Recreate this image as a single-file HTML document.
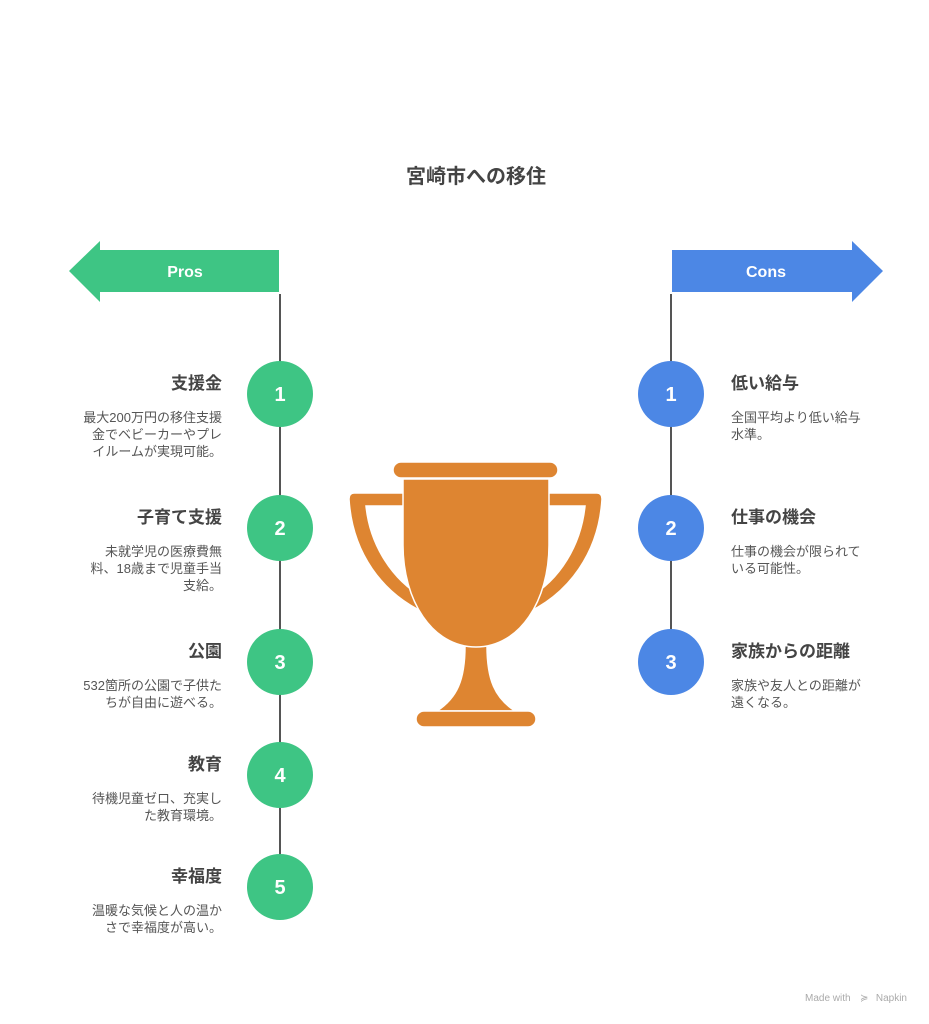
<!DOCTYPE html>
<html><head><meta charset="utf-8"><style>
html,body{margin:0;padding:0;background:#fff;}
svg{display:block;}
text{font-family:"Liberation Sans","Noto Sans CJK JP",sans-serif;}
.h{font-size:17px;font-weight:bold;fill:#444;}
.d{font-size:13px;fill:#555;}
.n{font-size:20px;font-weight:bold;fill:#fff;text-anchor:middle;}
</style></head><body>
<svg width="929" height="1024" viewBox="0 0 929 1024">
<text x="476" y="183" text-anchor="middle" style="font-size:20px;font-weight:bold;fill:#444">宮崎市への移住</text>
<polygon points="69,271 100,241 100,250 279,250 279,292 100,292 100,302" fill="#3EC584"/>
<text x="185" y="277" text-anchor="middle" style="font-size:16px;font-weight:bold;fill:#fff">Pros</text>
<polygon points="883,271 852,241 852,250 672,250 672,292 852,292 852,302" fill="#4C87E5"/>
<text x="766" y="277" text-anchor="middle" style="font-size:16px;font-weight:bold;fill:#fff">Cons</text>
<line x1="280" y1="294" x2="280" y2="870" stroke="#555" stroke-width="2"/>
<line x1="671" y1="294" x2="671" y2="650" stroke="#555" stroke-width="2"/>
<g fill="#3EC584">
<circle cx="280" cy="394" r="33"/><circle cx="280" cy="528" r="33"/><circle cx="280" cy="662" r="33"/><circle cx="280" cy="775" r="33"/><circle cx="280" cy="887" r="33"/>
</g>
<text class="n" x="280" y="401">1</text><text class="n" x="280" y="535">2</text><text class="n" x="280" y="669">3</text><text class="n" x="280" y="782">4</text><text class="n" x="280" y="894">5</text>
<g fill="#4C87E5">
<circle cx="671" cy="394" r="33"/><circle cx="671" cy="528" r="33"/><circle cx="671" cy="662" r="33"/>
</g>
<text class="n" x="671" y="401">1</text><text class="n" x="671" y="535">2</text><text class="n" x="671" y="669">3</text>
<g text-anchor="end">
<text class="h" x="222" y="389">支援金</text>
<text class="d" x="222" y="422">最大200万円の移住支援</text>
<text class="d" x="222" y="439">金でベビーカーやプレ</text>
<text class="d" x="222" y="456">イルームが実現可能。</text>
<text class="h" x="222" y="523">子育て支援</text>
<text class="d" x="222" y="556">未就学児の医療費無</text>
<text class="d" x="222" y="573">料、18歳まで児童手当</text>
<text class="d" x="222" y="590">支給。</text>
<text class="h" x="222" y="657">公園</text>
<text class="d" x="222" y="690">532箇所の公園で子供た</text>
<text class="d" x="222" y="707">ちが自由に遊べる。</text>
<text class="h" x="222" y="770">教育</text>
<text class="d" x="222" y="803">待機児童ゼロ、充実し</text>
<text class="d" x="222" y="820">た教育環境。</text>
<text class="h" x="222" y="882">幸福度</text>
<text class="d" x="222" y="915">温暖な気候と人の温か</text>
<text class="d" x="222" y="932">さで幸福度が高い。</text>
</g>
<text class="h" x="731" y="389">低い給与</text>
<text class="d" x="731" y="422">全国平均より低い給与</text>
<text class="d" x="731" y="439">水準。</text>
<text class="h" x="731" y="523">仕事の機会</text>
<text class="d" x="731" y="556">仕事の機会が限られて</text>
<text class="d" x="731" y="573">いる可能性。</text>
<text class="h" x="731" y="657">家族からの距離</text>
<text class="d" x="731" y="690">家族や友人との距離が</text>
<text class="d" x="731" y="707">遠くなる。</text>
<g fill="#DE8531" stroke="#fff" stroke-width="1.5">
<path d="M410,493 L354,493 Q349,493 349,499 C352,550 380,595 432,616 L424,598 C392,580 370,545 366,506 L410,506 Z"/>
<path d="M542,493 L597,493 Q602,493 602,499 C599,550 571,595 520,616 L528,598 C560,580 581,545 585,506 L542,506 Z"/>
<rect x="393" y="462" width="165" height="16" rx="8"/>
<path d="M465,646 L487,646 C487,680 495,698 515,711 L437,711 C457,698 465,680 465,646 Z"/>
<path d="M403,479 L549,479 L549,545 C549,600 520,647 476,647 C432,647 403,600 403,545 Z"/>
<rect x="416" y="711" width="120" height="16" rx="8"/>
</g>
<text x="805" y="1001" style="font-size:10px;fill:#aaa">Made with</text>
<text x="860" y="1001" style="font-size:10px;fill:#aaa">≽</text>
<text x="907" y="1001" text-anchor="end" style="font-size:10px;fill:#aaa">Napkin</text>
</svg>
</body></html>
